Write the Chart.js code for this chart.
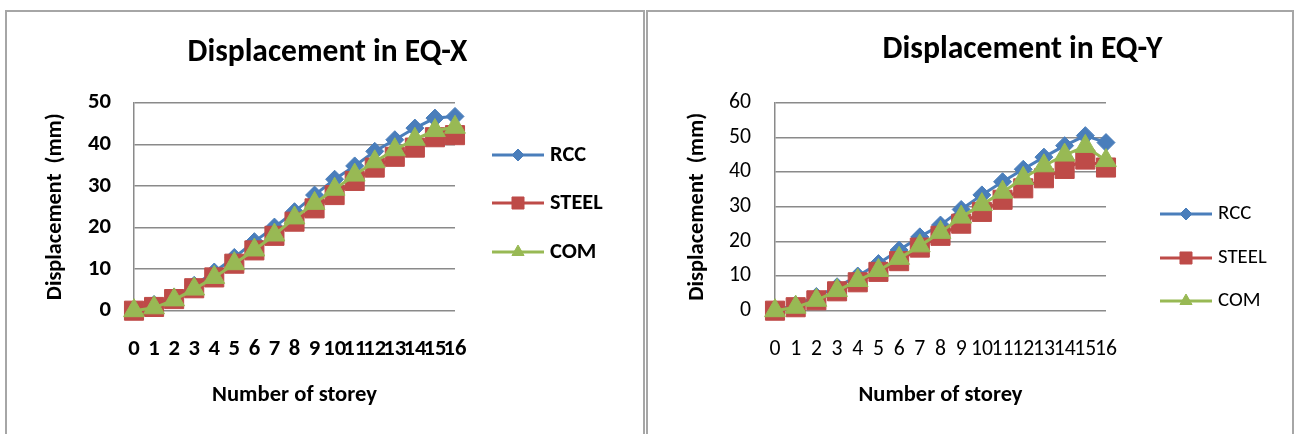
<!DOCTYPE html>
<html>
<head>
<meta charset="utf-8">
<script src="https://cdn.jsdelivr.net/npm/chart.js@4.4.1/dist/chart.umd.min.js"></script>
<style>
  html, body { margin: 0; padding: 0; background: #fff; overflow: hidden; }
  body { width: 1297px; height: 434px; position: relative; }
  .panel { position: absolute; top: 10px; height: 440px; border: 2px solid #a6a6a6; box-sizing: border-box; overflow: hidden; background: #fff; }
  #p1 { left: 5px; width: 640px; }
  #p2 { left: 646px; width: 648px; }
  canvas { position: absolute; left: 0; top: 0; }
</style>
</head>
<body>
<div class="panel" id="p1"><canvas id="c1" width="641" height="422" style="width:641px;height:422px"></canvas></div>
<div class="panel" id="p2"><canvas id="c2" width="749" height="422" style="width:749px;height:422px"></canvas></div>
<script>
// ---- data ----
const storeys = ['0','1','2','3','4','5','6','7','8','9','10','11','12','13','14','15','16'];
const seriesNames = ['RCC', 'STEEL', 'COM'];

const rccX   = [0, 1.5, 3.3, 6.1, 9.3, 12.8, 16.6, 20.1, 23.8, 27.8, 31.6, 34.8, 38.3, 41.1, 43.9, 46.3, 46.7];
const steelX = [0, 0.9, 2.8, 5.4, 8.0, 11.3, 14.5, 18.0, 21.4, 24.6, 27.8, 31.2, 34.4, 37.0, 39.2, 41.7, 42.2];
const comX   = [0, 0.7, 2.6, 5.2, 8.0, 11.3, 14.6, 18.2, 22.3, 25.8, 29.2, 32.6, 35.8, 38.7, 41.2, 43.3, 44.1];

const rccY   = [0, 1.7, 4.1, 6.9, 10.0, 13.6, 17.5, 21.3, 24.7, 29.2, 33.4, 37.2, 40.8, 44.3, 47.6, 50.5, 48.5];
const steelY = [0, 1.0, 3.0, 5.6, 8.2, 11.2, 14.3, 18.2, 21.6, 25.1, 28.5, 32.0, 35.3, 38.2, 40.9, 43.6, 41.3];
const comY   = [0, 1.0, 3.0, 5.8, 8.7, 11.6, 15.1, 18.7, 22.6, 27.0, 30.6, 34.2, 38.2, 41.8, 44.9, 47.4, 43.3];

const yTicksX = [0, 10, 20, 30, 40, 50];
const yTicksY = [0, 10, 20, 30, 40, 50, 60];

const titleX = 'Displacement in EQ-X';
const titleY = 'Displacement in EQ-Y';
const yAxisTitle = 'Displacement  (mm)';
const xAxisTitle = 'Number of storey';

// ---- styling ----
const FAMILY = 'Carlito, Lato, sans-serif';
const colors = ['#4A7EBB', '#BE4B48', '#98B954'];
const styles = ['rectRot', 'rect', 'triangle'];
const radii = [9, 13.5, 12];
const legendRadii = [6, 8.5, 7];
const GRID = '#8a8a8a';

const mctx = document.createElement('canvas').getContext('2d');
function fitSize(text, weight, target) {
  mctx.font = weight + ' 100px ' + FAMILY;
  return 100 * target / mctx.measureText(text).width;
}

const sideLegend = {
  id: 'sideLegend',
  afterDraw(chart, args, opts) {
    const ctx = chart.ctx;
    chart.data.datasets.forEach((ds, i) => {
      const y = opts.rows[i];
      ctx.save();
      ctx.strokeStyle = ds.borderColor;
      ctx.lineWidth = 3;
      ctx.beginPath();
      ctx.moveTo(opts.x1, y);
      ctx.lineTo(opts.x2, y);
      ctx.stroke();
      ctx.fillStyle = ds.pointBackgroundColor;
      ctx.strokeStyle = ds.pointBorderColor;
      ctx.lineWidth = 1;
      Chart.helpers.drawPoint(ctx, {pointStyle: ds.pointStyle, radius: legendRadii[i], borderWidth: 1, rotation: 0}, (opts.x1 + opts.x2) / 2, y);
      ctx.fillStyle = '#000';
      ctx.font = opts.weight + ' ' + opts.size + 'px ' + FAMILY;
      ctx.textAlign = 'left';
      ctx.textBaseline = 'middle';
      ctx.fillText(ds.label, opts.textX, y);
      ctx.restore();
    });
  }
};

function makeDatasets(values) {
  return values.map((v, i) => ({
    label: seriesNames[i],
    data: v,
    borderColor: colors[i],
    backgroundColor: colors[i],
    pointBackgroundColor: colors[i],
    pointBorderColor: colors[i],
    pointBorderWidth: 1,
    pointStyle: styles[i],
    pointRadius: radii[i],
    pointHoverRadius: radii[i],
    borderWidth: 3,
    tension: 0,
    clip: false,
    yAxisID: 'y',
    order: 3 - i
  }));
}

function makeChart(id, cfg) {
  const tickFont = {family: FAMILY, size: cfg.tickSize, weight: cfg.tickWeight};
  const titleSize = cfg.titleSize;
  const axTitleSize = cfg.axTitleSize;
  const xTitleSize = cfg.xTitleSize;
  return new Chart(document.getElementById(id), {
    type: 'line',
    data: { labels: storeys, datasets: makeDatasets(cfg.values) },
    options: {
      responsive: false,
      animation: false,
      devicePixelRatio: 1,
      events: [],
      layout: { padding: 0 },
      plugins: {
        legend: { display: false },
        tooltip: { enabled: false },
        title: {
          display: true,
          text: cfg.title,
          color: '#000',
          font: { family: FAMILY, size: titleSize, weight: 'bold', lineHeight: 1.2 },
          padding: { top: cfg.titleCenter - 0.6 * titleSize, bottom: 90.7 - cfg.titleCenter - 0.6 * titleSize }
        },
        sideLegend: cfg.legend
      },
      scales: {
        x: {
          type: 'category',
          offset: false,
          grid: { display: false, drawTicks: false },
          border: { display: false },
          ticks: {
            autoSkip: false, maxRotation: 0, minRotation: 0,
            color: '#000', font: tickFont,
            padding: 39.1 - 0.6 * cfg.tickSize
          },
          title: {
            display: true, text: xAxisTitle, color: '#000',
            font: { family: FAMILY, size: xTitleSize, weight: 'bold', lineHeight: 1.2 },
            padding: { top: 0, bottom: 422 - 383.7 - 0.6 * xTitleSize }
          },
          afterFit(scale) { scale.height = 123.3; }
        },
        y: {
          position: 'left',
          min: cfg.yTicks[0],
          max: cfg.yTicks[cfg.yTicks.length - 1],
          grid: { color: GRID, lineWidth: 1.5, drawTicks: false },
          border: { display: true, color: GRID, width: 1.5 },
          ticks: {
            stepSize: cfg.yTicks[1] - cfg.yTicks[0],
            color: '#000', font: tickFont, padding: cfg.yTickPad
          },
          title: {
            display: true, text: yAxisTitle, color: '#000',
            font: { family: FAMILY, size: axTitleSize, weight: 'bold', lineHeight: 1.2 },
            padding: { top: cfg.yTitleCenter - 0.6 * axTitleSize, bottom: 0 }
          },
          afterFit(scale) { scale.width = 127; }
        },
        legendSpace: {
          type: 'linear',
          position: 'right',
          display: true,
          grid: { display: false, drawTicks: false },
          border: { display: false },
          ticks: { display: false },
          afterFit(scale) { scale.width = cfg.padRight; }
        }
      }
    },
    plugins: [sideLegend]
  });
}

makeChart('c1', {
  values: [rccX, steelX, comX],
  yTicks: yTicksX,
  title: titleX,
  titleSize: fitSize(titleX, 'bold', 280),
  titleCenter: 41.5,
  tickSize: fitSize('50', 'bold', 23),
  tickWeight: 'bold',
  yTickPad: 23,
  axTitleSize: fitSize(yAxisTitle, 'bold', 187),
  xTitleSize: fitSize(xAxisTitle, 'bold', 165),
  yTitleCenter: 48,
  padRight: 641 - 448,
  legend: { x1: 485, x2: 537, textX: 543, rows: [143, 191, 240], weight: 'bold', size: fitSize('STEEL', 'bold', 52.7) }
});

makeChart('c2', {
  values: [rccY, steelY, comY],
  yTicks: yTicksY,
  title: titleY,
  titleSize: fitSize(titleY, 'bold', 280),
  titleCenter: 38,
  tickSize: fitSize('60', 'normal', 22),
  tickWeight: 'normal',
  yTickPad: 24,
  axTitleSize: fitSize(yAxisTitle, 'bold', 188),
  xTitleSize: fitSize(xAxisTitle, 'bold', 164),
  yTitleCenter: 49,
  padRight: 749 - 458,
  legend: { x1: 512, x2: 564, textX: 570, rows: [202, 246, 289], weight: 'normal', size: fitSize('STEEL', 'normal', 48.7) }
});
</script>
</body>
</html>
